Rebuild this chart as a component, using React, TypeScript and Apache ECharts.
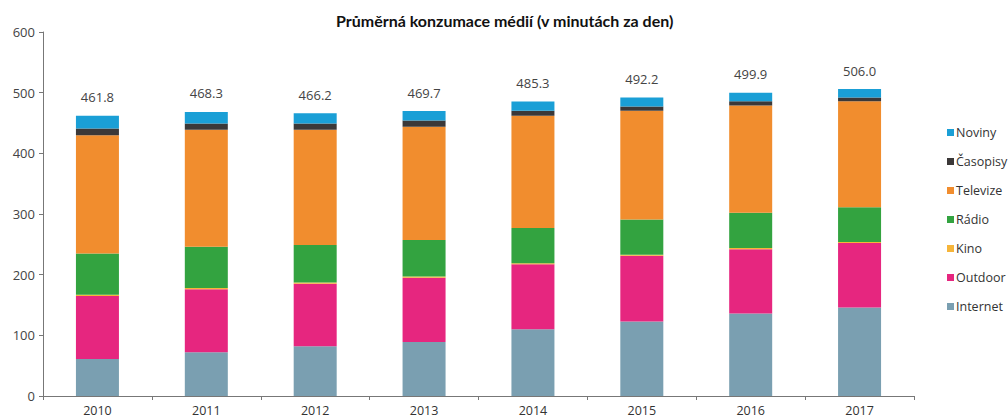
import React, { useEffect, useRef } from "react";
import * as echarts from "echarts";

const years = ["2010", "2011", "2012", "2013", "2014", "2015", "2016", "2017"];
const internet = [61, 72, 82, 89, 110, 123, 136, 146];
const outdoor = [104, 104, 103, 106, 107, 108, 106, 106];
const kino = [2, 2, 2, 2, 2, 2, 2, 2];
const radio = [68, 68, 62, 60, 58, 58, 58, 57];
const televize = [195, 193, 190, 187, 185, 179, 177, 175];
const casopisy = [11, 10, 10, 10, 8, 7, 7, 6];
const noviny = [20.8, 19.3, 17.2, 15.7, 15.3, 15.2, 13.9, 14];
const totals = ["461.8", "468.3", "466.2", "469.7", "485.3", "492.2", "499.9", "506.0"];
const yTicks = [0, 100, 200, 300, 400, 500, 600];

const seriesDefs = [
  { name: "Internet", data: internet, color: "#7a9fb1" },
  { name: "Outdoor", data: outdoor, color: "#e6267f" },
  { name: "Kino", data: kino, color: "#f6b53a" },
  { name: "Rádio", data: radio, color: "#33a340" },
  { name: "Televize", data: televize, color: "#f18d2e" },
  { name: "Časopisy", data: casopisy, color: "#3b3838" },
  { name: "Noviny", data: noviny, color: "#1a9fd6" },
];

export default function App() {
  const ref = useRef<HTMLDivElement>(null);
  useEffect(() => {
    const chart = echarts.init(ref.current!, null, { renderer: "svg" });
    const font = "'Open Sans', 'Noto Sans', sans-serif";
    chart.setOption({
      animation: false,
      textStyle: { fontFamily: font },
      title: {
        text: "Průměrná konzumace médií (v minutách za den)",
        left: 331,
        top: 7,
        textStyle: { fontFamily: "Lato, 'Noto Sans', sans-serif", fontWeight: "bold", fontSize: 16, color: "#111" },
      },
      grid: { left: 43, right: 94, top: 32, bottom: 22, containLabel: false },
      legend: {
        orient: "vertical",
        left: 942,
        top: 120,
        itemWidth: 7,
        itemHeight: 7,
        itemGap: 14,
        icon: "rect",
        data: [...seriesDefs].reverse().map((s) => s.name),
        textStyle: { fontFamily: font, fontSize: 12.5, color: "#333", lineHeight: 15, padding: [0, 0, 0, -3] },
      },
      xAxis: {
        type: "category",
        data: years,
        axisLine: { lineStyle: { color: "#777", width: 1 } },
        axisTick: { show: true, length: 4, lineStyle: { color: "#777" } },
        axisLabel: { color: "#333", fontSize: 12.5, margin: 8 },
      },
      yAxis: {
        type: "value",
        min: yTicks[0],
        max: yTicks[yTicks.length - 1],
        interval: 100,
        splitLine: { show: false },
        axisLine: { show: true, lineStyle: { color: "#777", width: 1 } },
        axisTick: { show: true, length: 4, lineStyle: { color: "#777" } },
        axisLabel: { color: "#444", fontSize: 13, margin: 8 },
      },
      series: seriesDefs.map((s, i) => ({
        name: s.name,
        type: "bar",
        stack: "total",
        barWidth: 43,
        data: s.data,
        itemStyle: { color: s.color },
        label:
          i === seriesDefs.length - 1
            ? {
                show: true,
                position: "top",
                distance: 12,
                formatter: (p: any) => totals[p.dataIndex],
                color: "#444",
                fontSize: 13,
                fontFamily: font,
              }
            : { show: false },
      })),
    });
    return () => chart.dispose();
  }, []);
  return <div ref={ref} style={{ width: 1008, height: 418, position: "absolute", left: 0, top: 0 }} />;
}
